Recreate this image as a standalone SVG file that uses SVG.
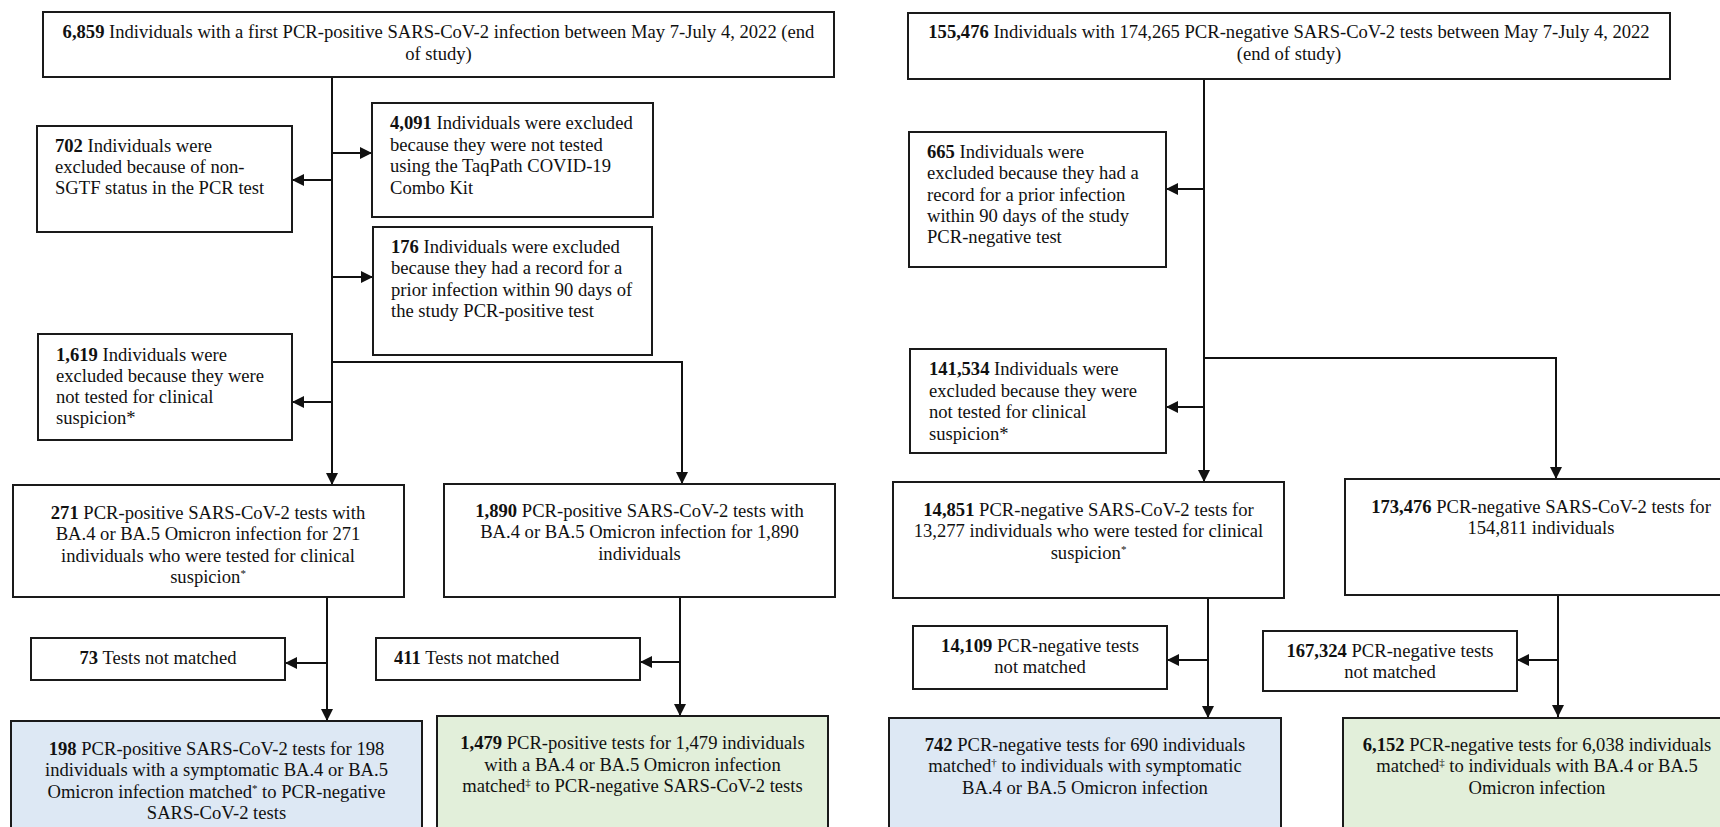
<svg xmlns="http://www.w3.org/2000/svg" width="1720" height="827" viewBox="0 0 1720 827">
<style>
.box{fill:#ffffff;stroke:#1a1a1a;stroke-width:2}
.blue{fill:#dde8f4;stroke:#1a1a1a;stroke-width:2}
.green{fill:#e2efda;stroke:#1a1a1a;stroke-width:2}
text{font-family:"Liberation Serif","Times New Roman",serif;font-size:18.6px;fill:#111}
.c{text-anchor:middle}
.b{font-weight:bold}
.sup{font-size:11px}
.ln{fill:none;stroke:#111;stroke-width:2}
</style>
<defs>
<marker id="ah" markerUnits="userSpaceOnUse" markerWidth="12" markerHeight="12" refX="12" refY="6" orient="auto">
<path d="M0,0 L12,6 L0,12 z" fill="#111"/>
</marker>
</defs>
<rect x="0" y="0" width="1720" height="827" fill="#ffffff"/>

<g id="connectors">
<path class="ln" d="M332,77 V485" marker-end="url(#ah)"/>
<path class="ln" d="M332,180 H292" marker-end="url(#ah)"/>
<path class="ln" d="M332,153 H372" marker-end="url(#ah)"/>
<path class="ln" d="M332,277 H373" marker-end="url(#ah)"/>
<path class="ln" d="M332,402 H292" marker-end="url(#ah)"/>
<path class="ln" d="M332,362 H682 V484" marker-end="url(#ah)"/>
<path class="ln" d="M327,597 V721" marker-end="url(#ah)"/>
<path class="ln" d="M327,663 H285" marker-end="url(#ah)"/>
<path class="ln" d="M680,597 V716" marker-end="url(#ah)"/>
<path class="ln" d="M680,662 H640" marker-end="url(#ah)"/>
<path class="ln" d="M1204,79 V482" marker-end="url(#ah)"/>
<path class="ln" d="M1204,189 H1166" marker-end="url(#ah)"/>
<path class="ln" d="M1204,358 H1556 V479" marker-end="url(#ah)"/>
<path class="ln" d="M1204,407 H1166" marker-end="url(#ah)"/>
<path class="ln" d="M1208,598 V718" marker-end="url(#ah)"/>
<path class="ln" d="M1208,660 H1167" marker-end="url(#ah)"/>
<path class="ln" d="M1558,595 V717" marker-end="url(#ah)"/>
<path class="ln" d="M1558,660 H1517" marker-end="url(#ah)"/>
</g>

<g id="n-top-left">
<rect class="box" x="43" y="12" width="791" height="65"/>
<text class="c" x="438.5" y="38"><tspan class="b">6,859</tspan> Individuals with a first PCR-positive SARS-CoV-2 infection between May 7-July 4, 2022 (end</text>
<text class="c" x="438.5" y="60">of study)</text>
</g>

<g id="n-702">
<rect class="box" x="37" y="126" width="255" height="106"/>
<text x="55" y="152"><tspan class="b">702</tspan> Individuals were</text>
<text x="55" y="173">excluded because of non-</text>
<text x="55" y="194">SGTF status in the PCR test</text>
</g>

<g id="n-4091">
<rect class="box" x="372" y="103" width="281" height="114"/>
<text x="390" y="129"><tspan class="b">4,091</tspan> Individuals were excluded</text>
<text x="390" y="151">because they were not tested</text>
<text x="390" y="172">using the TaqPath COVID-19</text>
<text x="390" y="194">Combo Kit</text>
</g>

<g id="n-176">
<rect class="box" x="373" y="227" width="279" height="128"/>
<text x="391" y="253"><tspan class="b">176</tspan> Individuals were excluded</text>
<text x="391" y="274">because they had a record for a</text>
<text x="391" y="296">prior infection within 90 days of</text>
<text x="391" y="317">the study PCR-positive test</text>
</g>

<g id="n-1619">
<rect class="box" x="38" y="334" width="254" height="106"/>
<text x="56" y="361"><tspan class="b">1,619</tspan> Individuals were</text>
<text x="56" y="382">excluded because they were</text>
<text x="56" y="403">not tested for clinical</text>
<text x="56" y="424">suspicion*</text>
</g>

<g id="n-271">
<rect class="box" x="13" y="485" width="391" height="112"/>
<text class="c" x="208" y="519"><tspan class="b">271</tspan> PCR-positive SARS-CoV-2 tests with</text>
<text class="c" x="208" y="540">BA.4 or BA.5 Omicron infection for 271</text>
<text class="c" x="208" y="562">individuals who were tested for clinical</text>
<text class="c" x="208" y="583">suspicion<tspan class="sup" baseline-shift="super">*</tspan></text>
</g>

<g id="n-1890">
<rect class="box" x="444" y="484" width="391" height="113"/>
<text class="c" x="639.5" y="517"><tspan class="b">1,890</tspan> PCR-positive SARS-CoV-2 tests with</text>
<text class="c" x="639.5" y="538">BA.4 or BA.5 Omicron infection for 1,890</text>
<text class="c" x="639.5" y="560">individuals</text>
</g>

<g id="n-73">
<rect class="box" x="31" y="638" width="254" height="42"/>
<text class="c" x="158" y="664"><tspan class="b">73</tspan> Tests not matched</text>
</g>

<g id="n-411">
<rect class="box" x="376" y="638" width="264" height="42"/>
<text x="394" y="664"><tspan class="b">411</tspan> Tests not matched</text>
</g>

<g id="n-198">
<rect class="blue" x="11" y="721" width="411" height="120"/>
<text class="c" x="216.5" y="755"><tspan class="b">198</tspan> PCR-positive SARS-CoV-2 tests for 198</text>
<text class="c" x="216.5" y="776">individuals with a symptomatic BA.4 or BA.5</text>
<text class="c" x="216.5" y="798">Omicron infection matched<tspan class="sup" baseline-shift="super">*</tspan> to PCR-negative</text>
<text class="c" x="216.5" y="819">SARS-CoV-2 tests</text>
</g>

<g id="n-1479">
<rect class="green" x="437" y="716" width="391" height="125"/>
<text class="c" x="632.5" y="749"><tspan class="b">1,479</tspan> PCR-positive tests for 1,479 individuals</text>
<text class="c" x="632.5" y="771">with a BA.4 or BA.5 Omicron infection</text>
<text class="c" x="632.5" y="792">matched<tspan class="sup" baseline-shift="super">‡</tspan> to PCR-negative SARS-CoV-2 tests</text>
</g>

<g id="n-top-right">
<rect class="box" x="908" y="13" width="762" height="66"/>
<text class="c" x="1289" y="38"><tspan class="b">155,476</tspan> Individuals with 174,265 PCR-negative SARS-CoV-2 tests between May 7-July 4, 2022</text>
<text class="c" x="1289" y="60">(end of study)</text>
</g>

<g id="n-665">
<rect class="box" x="909" y="132" width="257" height="135"/>
<text x="927" y="158"><tspan class="b">665</tspan> Individuals were</text>
<text x="927" y="179">excluded because they had a</text>
<text x="927" y="201">record for a prior infection</text>
<text x="927" y="222">within 90 days of the study</text>
<text x="927" y="243">PCR-negative test</text>
</g>

<g id="n-141534">
<rect class="box" x="910" y="349" width="256" height="104"/>
<text x="929" y="375"><tspan class="b">141,534</tspan> Individuals were</text>
<text x="929" y="397">excluded because they were</text>
<text x="929" y="418">not tested for clinical</text>
<text x="929" y="440">suspicion*</text>
</g>

<g id="n-14851">
<rect class="box" x="893" y="482" width="391" height="116"/>
<text class="c" x="1088.5" y="516"><tspan class="b">14,851</tspan> PCR-negative SARS-CoV-2 tests for</text>
<text class="c" x="1088.5" y="537">13,277 individuals who were tested for clinical</text>
<text class="c" x="1088.5" y="559">suspicion<tspan class="sup" baseline-shift="super">*</tspan></text>
</g>

<g id="n-173476">
<rect class="box" x="1345" y="479" width="392" height="116"/>
<text class="c" x="1541" y="513"><tspan class="b">173,476</tspan> PCR-negative SARS-CoV-2 tests for</text>
<text class="c" x="1541" y="534">154,811 individuals</text>
</g>

<g id="n-14109">
<rect class="box" x="913" y="626" width="254" height="63"/>
<text class="c" x="1040" y="652"><tspan class="b">14,109</tspan> PCR-negative tests</text>
<text class="c" x="1040" y="673">not matched</text>
</g>

<g id="n-167324">
<rect class="box" x="1263" y="631" width="254" height="60"/>
<text class="c" x="1390" y="657"><tspan class="b">167,324</tspan> PCR-negative tests</text>
<text class="c" x="1390" y="678">not matched</text>
</g>

<g id="n-742">
<rect class="blue" x="889" y="718" width="392" height="123"/>
<text class="c" x="1085" y="751"><tspan class="b">742</tspan> PCR-negative tests for 690 individuals</text>
<text class="c" x="1085" y="772">matched<tspan class="sup" baseline-shift="super">†</tspan> to individuals with symptomatic</text>
<text class="c" x="1085" y="794">BA.4 or BA.5 Omicron infection</text>
</g>

<g id="n-6152">
<rect class="green" x="1343" y="718" width="394" height="123"/>
<text class="c" x="1537" y="751"><tspan class="b">6,152</tspan> PCR-negative tests for 6,038 individuals</text>
<text class="c" x="1537" y="772">matched<tspan class="sup" baseline-shift="super">‡</tspan> to individuals with BA.4 or BA.5</text>
<text class="c" x="1537" y="794">Omicron infection</text>
</g>
</svg>
